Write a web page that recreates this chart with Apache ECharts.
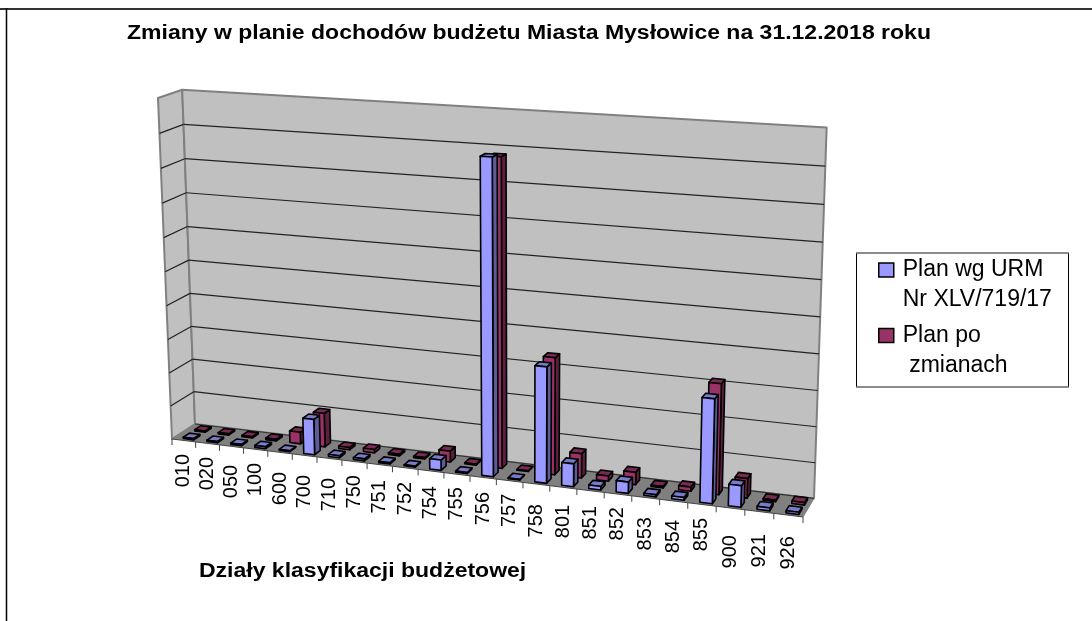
<!DOCTYPE html>
<html>
<head>
<meta charset="utf-8">
<script src="https://cdn.jsdelivr.net/npm/echarts@6/dist/echarts.min.js"></script>
<style>
html,body{margin:0;padding:0;background:#fff}
#chart{width:1092px;height:621px}
</style>
</head>
<body>
<div id="chart"></div>
<script>
const categories = ['010','020','050','100','600','700','710','750','751','752','754','755',
    '756','757','758','801','851','852','853','854','855','900','921','926'];
// percent of the height of the back wall, the original has no value labels
const planUrm = [0.4,0.4,0.4,0.6,0.3,10.5,0.6,0.6,0.4,0.3,3.0,0.3,
    89.3,0.2,33,6.5,1.0,3.2,0.6,0.8,29,6.0,0.8,0.6];
const planPo = [0.4,0.4,0.4,0.5,3.5,10,0.7,1.0,0.5,0.4,3.2,0.3,
    88,0.2,33.5,7.0,1.5,3.5,0.4,1.2,31,5.5,0.4,0.7];
const labelDrop = [13.5,13.5,18.5,13.5,19.5,19.5,19.5,13.5,15.5,14,15,13,
    14.5,13,20,17.5,15.5,13,19.5,19,13.5,27,22.5,21];
const seriesNames = ['Plan wg URM\nNr XLV/719/17', 'Plan po\n zmianach'];

// perspective box: u along categories, d front to back, h up the wall
function project(u, d, h) {
    const w = 1 - 0.105 * u + 0.0213 * d - 0.0383 * h;
    return [
        (172 + 546.7 * u + 27.15 * d - 20.05 * h) / w,
        (439 + 23.7 * u - 5.97 * d - 344.75 * h) / w
    ];
}

function poly(points, fill, stroke, lineWidth) {
    return {
        type: 'polygon',
        shape: { points: points },
        style: { fill: fill, stroke: stroke || null, lineWidth: lineWidth || 0, lineJoin: 'round' }
    };
}
function line(a, b, color, width) {
    return {
        type: 'line',
        shape: { x1: a[0], y1: a[1], x2: b[0], y2: b[1] },
        style: { stroke: color, lineWidth: width }
    };
}

function renderRoom(params, api) {
    const kids = [];
    const frame = '#808080';
    kids.push(poly([project(0,0,0), project(0,1,0), project(0,1,1), project(0,0,1)], '#c0c0c0', frame, 2));
    kids.push(poly([project(0,1,0), project(1,1,0), project(1,1,1), project(0,1,1)], '#c0c0c0', frame, 2));
    kids.push(poly([project(0,0,0), project(1,0,0), project(1,1,0), project(0,1,0)], '#808080'));
    const sys = params.coordSys;
    for (let v = 10; v < 100; v += 10) {
        const h = (sys.y + sys.height - api.coord([0, v])[1]) / sys.height;
        kids.push(line(project(0,0,h), project(0,1,h), '#222', 1.2));
        kids.push(line(project(0,1,h), project(1,1,h), '#222', 1.2));
    }
    kids.push(line(project(0,1,0), project(1,1,0), '#333', 1.2));
    kids.push(line(project(0,0,0), project(1,0,0), '#444', 1));
    kids.push(line(project(1,0,0), project(1,1,0), '#808080', 1));
    categories.forEach(function (name, i) {
        const c = api.coord([i, 0])[0];
        const size = api.size([1, 0])[0];
        const e0 = project((c - size / 2 - sys.x) / sys.width, 0, 0);
        kids.push(line(e0, [e0[0], e0[1] + 6], '#444', 1));
        const mid = project((c - sys.x) / sys.width, 0, 0);
        kids.push({
            type: 'text',
            x: mid[0],
            y: mid[1] + labelDrop[i],
            rotation: Math.PI / 2,
            style: {
                text: name, fill: '#000', align: 'right', verticalAlign: 'middle',
                font: '20px "Liberation Sans"'
            }
        });
    });
    const last = project(1, 0, 0);
    kids.push(line(last, [last[0], last[1] + 6], '#444', 1));
    return { type: 'group', children: kids };
}

function barRenderer(d0, d1, front, side, top) {
    return function (params, api) {
        const sys = params.coordSys;
        const i = api.value(0);
        const base = api.coord([i, 0]);
        const head = api.coord([i, api.value(1)]);
        const size = api.size([1, 0])[0];
        const u0 = (base[0] - size * 0.12 - sys.x) / sys.width;
        const u1 = (base[0] + size * 0.32 - sys.x) / sys.width;
        const h = (base[1] - head[1]) / sys.height;
        return {
            type: 'group',
            children: [
                poly([project(u1,d0,0), project(u1,d1,0), project(u1,d1,h), project(u1,d0,h)], side, '#000', 1.6),
                poly([project(u0,d0,h), project(u1,d0,h), project(u1,d1,h), project(u0,d1,h)], top, '#000', 1.6),
                poly([project(u0,d0,0), project(u1,d0,0), project(u1,d0,h), project(u0,d0,h)], front, '#000', 1.6)
            ]
        };
    };
}

function pairs(values) {
    return values.map(function (v, i) { return [i, v]; });
}

function boldText(text, x, y) {
    return {
        type: 'text', x: x, y: y, scaleX: 1.15, silent: true,
        style: { text: text, fill: '#000', verticalAlign: 'middle', font: 'bold 20px "Liberation Sans"' }
    };
}
function frameLine(x1, y1, x2, y2, color, width) {
    return {
        type: 'line', silent: true, z: -1,
        shape: { x1: x1, y1: y1, x2: x2, y2: y2 },
        style: { stroke: color, lineWidth: width }
    };
}

const chart = echarts.init(document.getElementById('chart'));
chart.setOption({
    animation: false,
    backgroundColor: '#fff',
    grid: { left: 0, right: 0, top: 0, bottom: 0 },
    xAxis: { type: 'category', data: categories, show: false },
    yAxis: { type: 'value', min: 0, max: 100, interval: 10, show: false },
    legend: {
        data: seriesNames,
        orient: 'vertical',
        left: 878, top: 225,
        padding: 0,
        itemGap: -24.5,
        itemWidth: 15, itemHeight: 14,
        icon: 'rect',
        align: 'left',
        itemStyle: { borderColor: '#000', borderWidth: 1.5 },
        formatter: function (name) { return '\n' + name; },
        textStyle: { fontFamily: 'Liberation Sans', fontSize: 23, lineHeight: 30, color: '#000', padding: [0, 0, 0, 4] }
    },
    graphic: [
        frameLine(0, 9, 1092, 9, '#333', 2),
        frameLine(6.5, 8, 6.5, 621, '#000', 1.5),
        frameLine(856.5, 253, 856.5, 387, '#000', 1),
        frameLine(1068.5, 253, 1068.5, 387, '#000', 1),
        frameLine(856, 253, 1069, 253, '#666', 1.5),
        frameLine(856, 387, 1069, 387, '#666', 1.5),
        boldText('Zmiany w planie dochodów budżetu Miasta Mysłowice na 31.12.2018 roku', 127, 33),
        boldText('Działy klasyfikacji budżetowej', 199, 571)
    ],
    series: [
        {
            type: 'custom', name: 'room', silent: true, clip: false,
            data: [[0, 0]], encode: { x: 0, y: 1 },
            renderItem: renderRoom
        },
        {
            type: 'custom', name: seriesNames[1], clip: false,
            itemStyle: { color: '#993366' },
            data: pairs(planPo), encode: { x: 0, y: 1 },
            renderItem: barRenderer(0.6, 0.87, '#993366', '#5c1f3d', '#7a2952')
        },
        {
            type: 'custom', name: seriesNames[0], clip: false,
            itemStyle: { color: '#9999ff' },
            data: pairs(planUrm), encode: { x: 0, y: 1 },
            renderItem: barRenderer(0.1, 0.37, '#9999ff', '#5c5c99', '#7a7acc')
        }
    ]
});
</script>
</body>
</html>
